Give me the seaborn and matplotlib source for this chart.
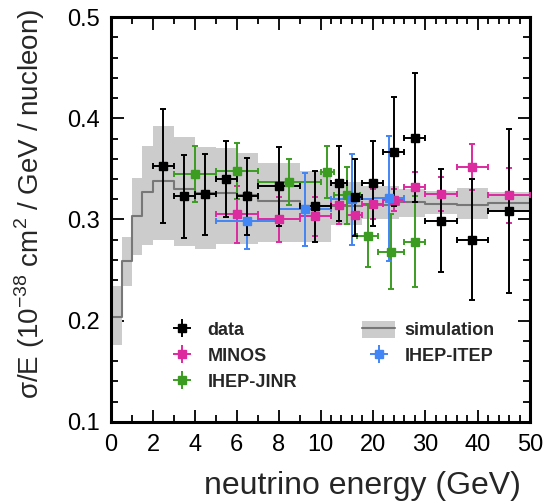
import numpy as np
import matplotlib
matplotlib.use('Agg')
import matplotlib.pyplot as plt
import seaborn as sns
from matplotlib.patches import Patch
from matplotlib.lines import Line2D

sns.set_theme(style='ticks')
plt.rcParams['font.family'] = ['Liberation Sans', 'DejaVu Sans']
plt.rcParams['mathtext.fontset'] = 'custom'
plt.rcParams['mathtext.rm'] = 'Liberation Sans'

# simulation (step histogram with band)
sim_edges = [0, 0.5, 1, 1.5, 2, 3, 4, 5, 6, 7, 9, 12, 18, 25, 30, 36, 42, 50]
sim_mid = [0.204, 0.259, 0.303, 0.327, 0.338, 0.330, 0.326, 0.326, 0.324, 0.318,
           0.313, 0.313, 0.314, 0.317, 0.315, 0.314, 0.316]
sim_hi = [0.234, 0.283, 0.341, 0.373, 0.392, 0.382, 0.372, 0.371, 0.366, 0.356,
          0.348, 0.337, 0.333, 0.330, 0.328, 0.331, 0.327]
sim_lo = [0.176, 0.234, 0.265, 0.275, 0.280, 0.274, 0.271, 0.276, 0.276, 0.278,
          0.278, 0.295, 0.300, 0.302, 0.305, 0.300, 0.307]

# data
data_e = [2.5, 3.5, 4.5, 5.5, 6.5, 8, 9.75, 13.5, 16.5, 20, 24, 28, 33, 39, 46]
data_elo = [2, 3, 4, 5, 6, 7, 9, 12, 15, 18, 22, 26, 30, 36, 42]
data_ehi = [3, 4, 5, 6, 7, 9, 12, 15, 18, 22, 26, 30, 36, 42, 50]
data_val = [0.353, 0.323, 0.325, 0.340, 0.323, 0.333, 0.313, 0.336, 0.322, 0.336,
            0.367, 0.381, 0.299, 0.280, 0.308]
data_err = [0.056, 0.041, 0.040, 0.038, 0.038, 0.039, 0.035, 0.037, 0.038, 0.042,
            0.054, 0.064, 0.051, 0.060, 0.081]

# MINOS
minos_e = [6, 8, 9.75, 13.5, 16.5, 20, 24, 28, 33, 39, 46]
minos_elo = [5, 7, 9, 12, 15, 18, 22, 26, 30, 36, 42]
minos_ehi = [7, 9, 12, 15, 18, 22, 26, 30, 36, 42, 50]
minos_val = [0.305, 0.300, 0.303, 0.314, 0.304, 0.315, 0.319, 0.332, 0.325, 0.352, 0.324]
minos_err = [0.028, 0.022, 0.019, 0.018, 0.019, 0.015, 0.011, 0.015, 0.017, 0.023, 0.027]

# IHEP-JINR
jinr_e = [4, 6, 8.5, 11.25, 15, 19, 23.5, 28]
jinr_elo = [3, 5, 7, 10, 12.5, 17, 21, 26]
jinr_ehi = [5, 7, 10, 12.5, 17.5, 21, 26, 30]
jinr_val = [0.345, 0.348, 0.337, 0.347, 0.324, 0.284, 0.268, 0.278]
jinr_err = [0.028, 0.028, 0.023, 0.026, 0.028, 0.031, 0.037, 0.045]

# IHEP-ITEP
itep_e = [6.5, 9.25, 16, 23]
itep_elo = [5, 8, 12, 20]
itep_ehi = [8, 12, 20, 26]
itep_val = [0.299, 0.310, 0.320, 0.321]
itep_err = [0.028, 0.036, 0.045, 0.062]

colors = {'data': 'black', 'MINOS': '#dc2a9f', 'IHEP-JINR': '#3c9c22', 'IHEP-ITEP': '#4285f4'}
band_color = '#cccccc'
line_color = '#777777'


def fwd(x):
    x = np.asarray(x, dtype=float)
    return np.where(x <= 10, x / 10, 1 + (x - 10) / 40)


def inv(t):
    t = np.asarray(t, dtype=float)
    return np.where(t <= 1, t * 10, 10 + (t - 1) * 40)


fig = plt.figure(figsize=(5.47, 5.04), dpi=100)
ax = fig.add_axes([0.203, 0.163, 0.766, 0.803])
ax.set_xscale('function', functions=(fwd, inv))

ax.fill_between(sim_edges, sim_lo + [sim_lo[-1]], sim_hi + [sim_hi[-1]],
                step='post', color=band_color, lw=0, zorder=1)
sns.lineplot(x=sim_edges, y=sim_mid + [sim_mid[-1]], drawstyle='steps-post',
             estimator=None, color=line_color, lw=1.5, ax=ax, zorder=2)


def draw(e, elo, ehi, val, err, label):
    e = np.array(e)
    xerr = [e - np.array(elo), np.array(ehi) - e]
    c = colors[label]
    ax.errorbar(e, val, yerr=err, xerr=xerr, fmt='s', ms=5.5, color=c,
                ecolor=c, elinewidth=1.4, capsize=2.2, capthick=1.4, zorder=3)
    # legend proxy without caps
    return ax.errorbar([np.nan], [np.nan], yerr=[1], xerr=[1], fmt='s', ms=5.5,
                       color=c, elinewidth=1.4, capsize=0)


h_minos = draw(minos_e, minos_elo, minos_ehi, minos_val, minos_err, 'MINOS')
h_jinr = draw(jinr_e, jinr_elo, jinr_ehi, jinr_val, jinr_err, 'IHEP-JINR')
h_itep = draw(itep_e, itep_elo, itep_ehi, itep_val, itep_err, 'IHEP-ITEP')
h_data = draw(data_e, data_elo, data_ehi, data_val, data_err, 'data')

h_sim = (Patch(facecolor=band_color, edgecolor='none'), Line2D([], [], color=line_color, lw=1.5))

ax.set_xlim(0, 50)
ax.set_ylim(0.1, 0.5)
ax.set_xticks([0, 2, 4, 6, 8, 10, 20, 30, 40, 50])
ax.set_xticklabels(['0', '2', '4', '6', '8', '10', '20', '30', '40', '50'])
ax.set_xticks([1, 3, 5, 7, 9] + [v for v in range(12, 50, 2) if v % 10], minor=True)
ax.set_yticks([0.1, 0.2, 0.3, 0.4, 0.5])
ax.set_yticklabels(['0.1', '0.2', '0.3', '0.4', '0.5'])
ax.set_yticks(np.arange(0.12, 0.5, 0.02), minor=True)

ax.tick_params(which='both', direction='in', top=True, right=True, width=1.3,
               labelsize=17, colors='black')
ax.tick_params(which='major', length=9)
ax.tick_params(which='minor', length=5)
ax.tick_params(axis='x', pad=9)
ax.tick_params(axis='y', pad=8)
for sp in ax.spines.values():
    sp.set_linewidth(2.2)
    sp.set_color('black')

ax.set_xlabel('neutrino energy (GeV)', fontsize=23, loc='right')
ax.xaxis.set_label_coords(0.978, -0.121)
ax.set_ylabel(r'σ/E (10$^{\mathregular{-38}}$ cm$^{\mathregular{2}}$ / GeV / nucleon)',
              fontsize=20, loc='top')
ax.yaxis.set_label_coords(-0.153, 1.02)

ax.legend([h_data, h_minos, h_jinr, h_sim, h_itep],
          ['data', 'MINOS', 'IHEP-JINR', 'simulation', 'IHEP-ITEP'],
          ncol=2, loc='lower left', bbox_to_anchor=(0.09, 0.036), frameon=False,
          prop={'weight': 'bold', 'size': 13}, handlelength=1.85, handleheight=1.1,
          columnspacing=3.6, labelspacing=0.39, handletextpad=0.5)

fig.savefig('out.png', dpi=100)
